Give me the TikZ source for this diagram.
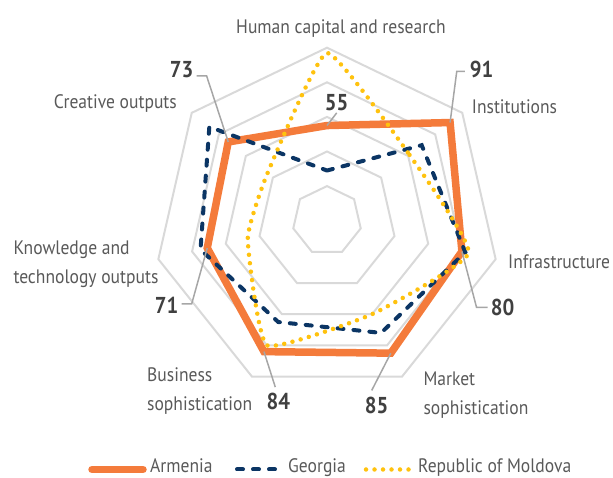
\documentclass[tikz,border=0pt]{standalone}
\usepackage{xcolor}
\usepackage{fontspec}
\setmainfont{PT Sans}[FakeStretch=0.9]

\definecolor{armenia}{HTML}{F47B3B}
\definecolor{georgia}{HTML}{0B3564}
\definecolor{moldova}{HTML}{FFC20E}
\definecolor{ringgray}{HTML}{D9D9D9}
\definecolor{textgray}{HTML}{595959}
\definecolor{numgray}{HTML}{404040}
\definecolor{leadgray}{HTML}{A6A6A6}

\begin{document}
\begin{tikzpicture}[x=1pt,y=1pt,
    ring/.style={draw=ringgray,line width=2pt},
    axislabel/.style={text=textgray,font=\fontsize{19.5}{28.5}\selectfont,inner sep=0pt,align=left},
    value/.style={text=numgray,font=\fontsize{23}{26}\selectfont\bfseries,inner sep=0pt},
    leader/.style={draw=leadgray,line width=1.5pt},
    armline/.style={draw=armenia,line width=7.5pt},
    geoline/.style={draw=georgia,line width=4pt,line cap=round,dash pattern=on 6pt off 10pt},
    molline/.style={draw=moldova,line width=4.5pt,line cap=round,dash pattern=on 0pt off 8.5pt}]
  % 画布范围
  \useasboundingbox (0,0) rectangle (613,478);

  % 雷达图：网格与数据点
  \begin{scope}[shift={(327,257.3)},x=1.73pt,y=1.73pt]
    % 网格
    \foreach \r in {20,40,...,100}
      \draw[ring] (90:\r) \foreach \k in {1,...,6} {-- (90-\k*360/7:\r)} -- cycle;
    % Armenia
    \foreach \v [count=\k] in {55,91,80,85,84,71,73}
      \coordinate (arm\k) at (90-\k*360/7+360/7:\v);
    % Georgia
    \foreach \v [count=\k] in {29,70,82,72,65,75,87}
      \coordinate (geo\k) at (90-\k*360/7+360/7:\v);
    % Republic of Moldova
    \foreach \v [count=\k] in {97,61,84,60,80,47,44}
      \coordinate (mol\k) at (90-\k*360/7+360/7:\v);
  \end{scope}

  % 三条折线
  \draw[armline] (arm1) -- (arm2) -- (arm3) -- (arm4) -- (arm5) -- (arm6) -- (arm7) -- cycle;
  \draw[geoline] (geo1) -- (geo2) -- (geo3) -- (geo4) -- (geo5) -- (geo6) -- (geo7) -- cycle;
  \draw[molline] plot[smooth cycle,tension=0.25] coordinates {(mol1) (mol2) (mol3) (mol4) (mol5) (mol6) (mol7)};

  % 坐标轴标签
  \node[axislabel,anchor=base] (hc) at (341,444.7) {Human capital and research};
  \node[axislabel,anchor=base west] (inst) at (471.7,364.7) {Institutions};
  \node[axislabel,anchor=base west] (infra) at (508,209.7) {Infrastructure};
  \node[axislabel,anchor=base west] (mkt) at (423.3,63.5) {Market\\sophistication};
  \node[axislabel,anchor=base west] (bus) at (147,67.8) {Business\\sophistication};
  \node[axislabel,anchor=base west] (know) at (13.3,194.5) {Knowledge and\\technology outputs};
  \node[axislabel,anchor=base east] (crea) at (177,369) {Creative outputs};

  % 数值标注
  \node[value] (v55) at (336.7,375.5) {55};
  \node[value] (v91) at (481.7,408.7) {91};
  \node[value] (v80) at (502.5,170.5) {80};
  \node[value] (v85) at (376.7,73) {85};
  \node[value] (v84) at (278.3,76.3) {84};
  \node[value] (v71) at (166.7,173) {71};
  \node[value] (v73) at (181.7,408) {73};

  % 引线
  \draw[leader] ([yshift=-2]v55.south) -- (arm1);
  \draw[leader] ([shift={(-5,-2)}]v91.west) -- ++(-8,0) -- (arm2);
  \draw[leader] ([shift={(-3,0)}]v80.west) -- ++(-11,0) -- (arm3);
  \draw[leader] ([shift={(-5,6)}]v85.north) -- (arm4);
  \draw[leader] ([shift={(-3,6)}]v84.north) -- (arm5);
  \draw[leader] ([shift={(3,1)}]v71.east) -- ++(10,0) -- (arm6);
  \draw[leader] ([shift={(3,-6)}]v73.east) -- ++(10,0) -- (arm7);

  % 图例
  \draw[armline,line cap=round] (92,8.5) -- (143,8.5);
  \node[axislabel,anchor=base west] (lgarm) at (150,5) {Armenia};
  \draw[geoline] (237,8.5) -- (278,8.5);
  \node[axislabel,anchor=base west] (lggeo) at (288,5) {Georgia};
  \draw[molline] (366,8.5) -- (410,8.5);
  \node[axislabel,anchor=base west] (lgmol) at (418,5) {Republic of Moldova};
\end{tikzpicture}
\end{document}
